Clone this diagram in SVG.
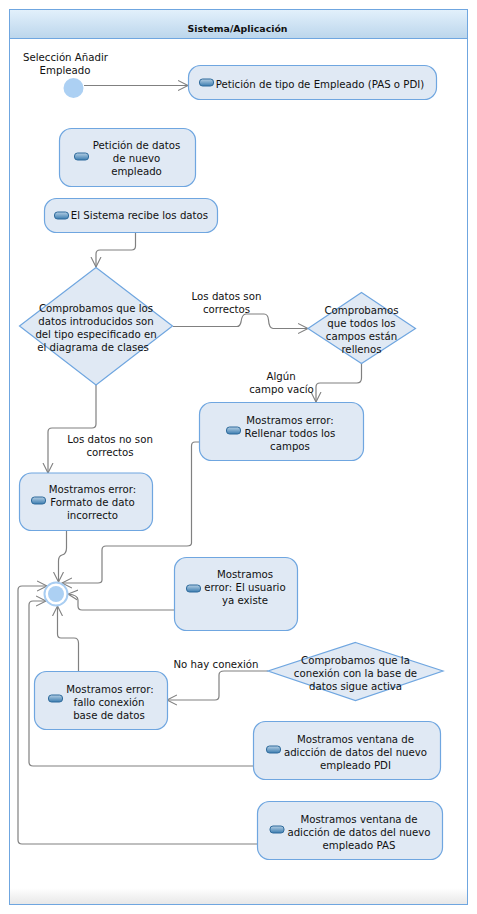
<svg xmlns="http://www.w3.org/2000/svg" width="477" height="914" viewBox="0 0 477 914">
<style>
text{font-family:"DejaVu Sans",Verdana,sans-serif;font-size:10.2px;fill:#111;text-anchor:middle}
.n{fill:#e0e9f4;stroke:#6fa6e0;stroke-width:1.2}
.c{fill:none;stroke:#808080;stroke-width:1.2;marker-end:url(#a)}
.p{fill:url(#pg);stroke:#2f6b9c;stroke-width:1}
</style>
<defs>
<linearGradient id="hg" x1="0" y1="0" x2="0" y2="1"><stop offset="0" stop-color="#e2f0fb"/><stop offset="1" stop-color="#bcd6ec"/></linearGradient>
<linearGradient id="fg" x1="0" y1="0" x2="0" y2="1"><stop offset="0" stop-color="#fff"/><stop offset="1" stop-color="#e8e8e8"/></linearGradient>
<linearGradient id="pg" x1="0" y1="0" x2="0" y2="1"><stop offset="0" stop-color="#b5cfe4"/><stop offset="1" stop-color="#3c7db0"/></linearGradient>
<marker id="a" markerUnits="userSpaceOnUse" markerWidth="12" markerHeight="12" refX="10" refY="6" orient="auto"><path d="M0 1L10 6L0 11" fill="none" stroke="#808080" stroke-width="1.1"/></marker>
</defs>
<rect width="477" height="914" fill="#fff"/>
<g id="frame">
<rect x="9.500" y="9.500" width="458" height="895" fill="#fff" stroke="#6fa6e0"/>
<rect x="10" y="10" width="457" height="28" fill="url(#hg)"/>
<line x1="10" y1="38.500" x2="467" y2="38.500" stroke="#6fa6e0"/>
<rect x="10" y="888" width="457" height="16" fill="url(#fg)"/>
<text x="237.500" y="32" style="font-weight:bold;font-size:9.4px">Sistema/Aplicación</text>
</g>
<g id="connectors">
<path class="c" d="M84 85.500H188"/>
<path class="c" d="M135.500 232V246Q135.500 250 131.500 250H100Q96 250 96 254V267"/>
<path class="c" d="M173 326.500H237Q240 326.500 241 322Q242 314 246 314H264Q268 314 268.500 320Q269 328 273 328.500H308"/>
<path class="c" d="M361.500 363V378Q361.500 383 357 383H320Q316 383 316 387V402"/>
<path class="c" d="M96 385V424Q96 428 92 428H52Q48 428 48 432V473"/>
<path class="c" d="M66.500 530V548Q66.500 554 62 555Q58.500 556 58.500 561V582"/>
<path class="c" d="M199 442H195Q191.500 442 191.500 446V543Q191.500 546 187 546H106Q102 546 102 550V580Q102 583 98 583H62"/>
<path class="c" d="M174 610H82Q78 610 78 606V600Q78 595 68 594"/>
<path class="c" d="M78.500 671V643Q78.500 638 74 638H61Q57.500 638 57.500 634V606"/>
<path class="c" d="M268 671H224Q219 671 219 675V696Q219 700 215 700H167"/>
<path class="c" d="M253 766H33Q29 766 29 762V605Q29 601 33 601H46"/>
<path class="c" d="M257 844H22Q18 844 18 840V590Q18 586 22 586H47"/>
</g>
<g id="start"><circle cx="73.500" cy="88" r="10" fill="#acd0f3"/><text x="65.500" y="61">Selección Añadir</text><text x="65" y="74">Empleado</text></g>
<g id="n1"><rect class="n" x="188.500" y="65.500" width="248" height="34" rx="12"/><rect class="p" x="199.500" y="79" width="14" height="7" rx="3"/><text x="320" y="88">Petición de tipo de Empleado (PAS o PDI)</text></g>
<g id="n2"><rect class="n" x="59.500" y="128.500" width="136" height="58" rx="12"/><rect class="p" x="74.500" y="153" width="14" height="7" rx="3"/><text x="136.500" y="149">Petición de datos</text><text x="136.500" y="162">de nuevo</text><text x="136.500" y="175">empleado</text></g>
<g id="n3"><rect class="n" x="44.500" y="198.500" width="173" height="34" rx="12"/><rect class="p" x="54.500" y="212" width="14" height="7" rx="3"/><text x="139.500" y="219">El Sistema recibe los datos</text></g>
<g id="d1"><path class="n" d="M96 267.500L172.500 326L96 385L19.500 326Z"/><text x="96" y="312">Comprobamos que los</text><text x="96" y="325">datos introducidos son</text><text x="96" y="338">del tipo especificado en</text><text x="93" y="351">el diagrama de clases</text></g>
<g id="d2"><path class="n" d="M361.500 292.500L415.500 328.500L361.500 363.500L308 328.500Z"/><text x="361.500" y="314">Comprobamos</text><text x="361.500" y="327">que todos los</text><text x="361.500" y="340">campos están</text><text x="361.500" y="353">rellenos</text></g>
<g id="l1"><text x="226.500" y="300">Los datos son</text><text x="226.500" y="313">correctos</text></g>
<g id="l2"><text x="281" y="380">Algún</text><text x="281.500" y="393">campo vacío</text></g>
<g id="l3"><text x="110" y="443">Los datos no son</text><text x="110" y="456">correctos</text></g>
<g id="n4"><rect class="n" x="199.500" y="402.500" width="164" height="58" rx="12"/><rect class="p" x="226.500" y="427" width="14" height="7" rx="3"/><text x="290" y="424">Mostramos error:</text><text x="290" y="437">Rellenar todos los</text><text x="290" y="450">campos</text></g>
<g id="n5"><rect class="n" x="19.500" y="473" width="133" height="57.500" rx="12"/><rect class="p" x="31.500" y="497" width="14" height="7" rx="3"/><text x="92.500" y="493">Mostramos error:</text><text x="92.500" y="506">Formato de dato</text><text x="92.500" y="519">incorrecto</text></g>
<g id="end"><circle cx="56" cy="594" r="11.500" fill="#fff" stroke="#a8cdf2" stroke-width="2"/><circle cx="56" cy="594" r="8" fill="#acd0f3"/></g>
<g id="n6"><rect class="n" x="174.500" y="557.500" width="123" height="73" rx="12"/><rect class="p" x="186.500" y="585" width="14" height="7" rx="3"/><text x="245" y="578">Mostramos</text><text x="245" y="591">error: El usuario</text><text x="245" y="604">ya existe</text></g>
<g id="d3"><path class="n" d="M355.500 642.500L443 671L355.500 700.500L268 671Z"/><text x="355.500" y="664">Comprobamos que la</text><text x="355.500" y="677">conexión con la base de</text><text x="355.500" y="690">datos sigue activa</text></g>
<g id="l4"><text x="216" y="668">No hay conexión</text></g>
<g id="n7"><rect class="n" x="34.500" y="671.500" width="133" height="58" rx="12"/><rect class="p" x="48.500" y="695" width="14" height="7" rx="3"/><text x="110" y="693">Mostramos error:</text><text x="109" y="706">fallo conexión</text><text x="109" y="719">base de datos</text></g>
<g id="n8"><rect class="n" x="253.500" y="721.500" width="187" height="58" rx="12"/><rect class="p" x="266.500" y="746" width="14" height="7" rx="3"/><text x="355.500" y="743">Mostramos ventana de</text><text x="355.500" y="756">adicción de datos del nuevo</text><text x="355.500" y="769">empleado PDI</text></g>
<g id="n9"><rect class="n" x="257.500" y="801.500" width="185" height="58" rx="12"/><rect class="p" x="270" y="826" width="14" height="7" rx="3"/><text x="359" y="823">Mostramos ventana de</text><text x="359" y="836">adicción de datos del nuevo</text><text x="359" y="849">empleado PAS</text></g>
</svg>
